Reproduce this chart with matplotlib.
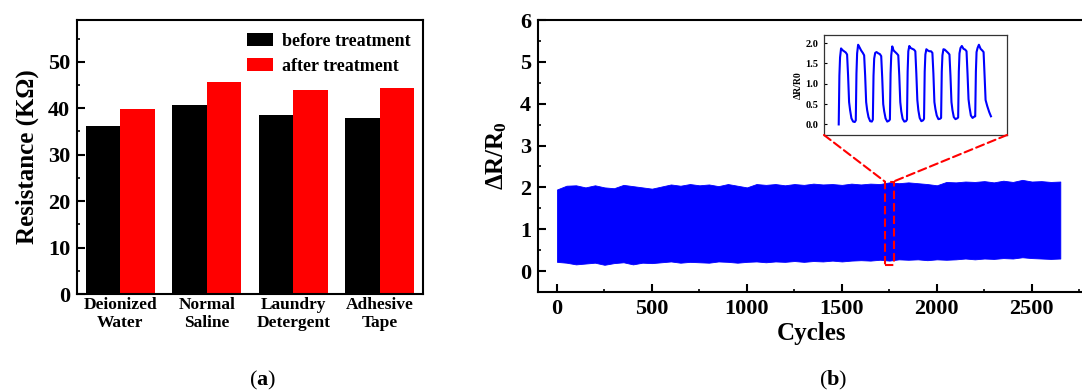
import matplotlib
matplotlib.use('Agg')
import numpy as np
import matplotlib.pyplot as plt
from matplotlib.patches import Rectangle, ConnectionPatch

plt.rcParams['font.family'] = ['Liberation Serif', 'DejaVu Serif']
plt.rcParams['font.weight'] = 'bold'
plt.rcParams['axes.labelweight'] = 'bold'
plt.rcParams['mathtext.fontset'] = 'custom'
plt.rcParams['mathtext.rm'] = 'Liberation Serif'
plt.rcParams['mathtext.it'] = 'Liberation Serif:italic'
plt.rcParams['mathtext.bf'] = 'Liberation Serif:bold'
plt.rcParams['mathtext.default'] = 'regular'

# ---- (a) resistance before / after treatment ----
conditions = ['Deionized\nWater', 'Normal\nSaline', 'Laundry\nDetergent', 'Adhesive\nTape']
before = [36.1, 40.6, 38.5, 37.8]
after = [39.8, 45.6, 43.9, 44.3]

# ---- (b) cycling envelope, read every 50 cycles ----
cycles = list(range(0, 2651, 50))
upper = [1.95, 2.04, 2.05, 2.00, 2.05, 2.00, 1.98, 2.06, 2.03, 2.00,
         1.97, 2.02, 2.07, 2.04, 2.08, 2.05, 2.07, 2.03, 2.08, 2.04,
         2.00, 2.08, 2.06, 2.08, 2.05, 2.08, 2.06, 2.09, 2.07, 2.08,
         2.06, 2.09, 2.07, 2.09, 2.08, 2.12, 2.10, 2.12, 2.10, 2.08,
         2.05, 2.13, 2.12, 2.14, 2.13, 2.15, 2.12, 2.16, 2.13, 2.18,
         2.14, 2.15, 2.13, 2.14]
lower = [0.22, 0.20, 0.16, 0.18, 0.20, 0.15, 0.19, 0.21, 0.16, 0.20,
         0.19, 0.21, 0.23, 0.20, 0.22, 0.21, 0.20, 0.23, 0.22, 0.20,
         0.22, 0.23, 0.21, 0.23, 0.22, 0.24, 0.22, 0.24, 0.23, 0.25,
         0.23, 0.25, 0.26, 0.25, 0.27, 0.25, 0.28, 0.27, 0.28, 0.26,
         0.28, 0.27, 0.28, 0.30, 0.28, 0.30, 0.29, 0.31, 0.30, 0.33,
         0.31, 0.30, 0.29, 0.30]

# ---- inset: nine zoomed-in pulses (time in arbitrary units) ----
inset_t = [0, 2, 4, 7, 11, 16, 21, 25, 28, 31, 34, 38, 43, 48,
           51, 53, 55, 58, 62, 67, 72, 76, 79, 82, 85, 89, 94, 99,
           102, 104, 106, 109, 113, 118, 123, 127, 130, 133, 136, 140, 145, 150,
           153, 155, 157, 160, 164, 169, 174, 178, 181, 184, 187, 191, 196, 201,
           204, 206, 208, 211, 215, 220, 225, 229, 232, 235, 238, 242, 247, 252,
           255, 257, 259, 262, 266, 271, 276, 280, 283, 286, 289, 293, 298, 303,
           306, 308, 310, 313, 317, 322, 327, 331, 334, 337, 340, 344, 349, 354,
           357, 359, 361, 364, 368, 373, 378, 382, 385, 388, 391, 395, 400, 405,
           408, 410, 412, 415, 419, 424, 429, 433, 436, 439, 444, 450, 455]
inset_v = [0.00, 1.20, 1.65, 1.87, 1.83, 1.80, 1.77, 1.72, 1.20, 0.55, 0.35, 0.15, 0.07, 0.06,
           0.10, 1.25, 1.75, 1.96, 1.90, 1.82, 1.76, 1.70, 1.20, 0.55, 0.35, 0.18, 0.08, 0.07,
           0.12, 1.20, 1.62, 1.76, 1.78, 1.75, 1.73, 1.68, 1.15, 0.50, 0.32, 0.15, 0.07, 0.09,
           0.12, 1.25, 1.70, 1.92, 1.82, 1.78, 1.74, 1.70, 1.20, 0.55, 0.32, 0.14, 0.07, 0.08,
           0.12, 1.30, 1.80, 1.93, 1.88, 1.86, 1.84, 1.80, 1.25, 0.60, 0.35, 0.16, 0.08, 0.10,
           0.14, 1.30, 1.72, 1.85, 1.82, 1.80, 1.80, 1.76, 1.25, 0.55, 0.38, 0.22, 0.13, 0.14,
           0.16, 1.30, 1.70, 1.85, 1.84, 1.80, 1.76, 1.72, 1.20, 0.55, 0.35, 0.18, 0.13, 0.15,
           0.17, 1.30, 1.75, 1.88, 1.93, 1.86, 1.84, 1.80, 1.25, 0.62, 0.42, 0.22, 0.16, 0.19,
           0.20, 1.30, 1.78, 1.88, 1.96, 1.86, 1.82, 1.78, 1.20, 0.60, 0.45, 0.30, 0.20]

zoom_box = (1726, 0.14, 46, 2.0)   # x, y, width, height in cycles / dR/R0

W, H = 1082, 392
fig = plt.figure(figsize=(W / 100, H / 100), dpi=100)


def px_axes(l, t, r, b):
    return fig.add_axes([l / W, 1 - b / H, (r - l) / W, (b - t) / H])


def style_ticks(ax):
    for s in ax.spines.values():
        s.set_linewidth(1.5)
    ax.tick_params(direction='in', which='major', length=5.5, width=1.5, labelsize=16, pad=5)
    ax.tick_params(direction='in', which='minor', length=2.5, width=1.2)


# ---------------- (a) ----------------
ax = px_axes(77, 20, 423, 294)
x = np.arange(len(conditions))
ax.bar(x - 0.2, before, 0.4, color='black', label='before treatment')
ax.bar(x + 0.2, after, 0.4, color='red', label='after treatment')
ax.set_xlim(-0.5, 3.5)
ax.set_ylim(0, 59)
ax.set_yticks(range(0, 51, 10))
ax.set_yticks(range(0, 59, 5), minor=True)
style_ticks(ax)
ax.set_xticks(x, conditions)
ax.tick_params(axis='x', length=0, labelsize=12.5, pad=2)
ax.set_ylabel('Resistance (KΩ)', fontsize=18, labelpad=6)
ax.legend(loc='upper right', frameon=False, fontsize=13, handlelength=1.45,
          handleheight=0.7, labelspacing=0.45, borderaxespad=0.3, handletextpad=0.5)
fig.text(263 / W, 1 - 380 / H, r'($\mathbf{a}$)', fontsize=16, fontweight='normal',
         ha='center', va='center')

# ---------------- (b) ----------------
axb = px_axes(538, 20, 1085, 292)
axb.fill_between(cycles, lower, upper, color='#0000FF', linewidth=0.6, edgecolor='#0000FF')
axb.set_xlim(-100, 2780)
axb.set_ylim(-0.5, 6)
axb.set_xticks(range(0, 2501, 500))
axb.set_xticks(range(0, 2780, 250), minor=True)
axb.set_yticks(range(0, 7))
axb.set_yticks(np.arange(-0.5, 6.01, 0.5), minor=True)
style_ticks(axb)
axb.set_xlabel('Cycles', fontsize=18, labelpad=2)
axb.set_ylabel('ΔR/R$_0$', fontsize=18, labelpad=8)

bx, by, bw, bh = zoom_box
axb.add_patch(Rectangle((bx, by), bw, bh, fill=False, edgecolor='red',
                        linewidth=1.5, linestyle=(0, (4, 2)), zorder=5))
fig.text(833 / W, 1 - 380 / H, r'($\mathbf{b}$)', fontsize=16, fontweight='normal',
         ha='center', va='center')

# inset
axi = px_axes(824, 35, 1007, 135)
axi.plot(inset_t, inset_v, color='#0000FF', linewidth=1.5)
axi.set_xlim(-44, 503)
axi.set_ylim(-0.26, 2.2)
axi.set_yticks([0.0, 0.5, 1.0, 1.5, 2.0])
axi.set_xticks([])
for s in axi.spines.values():
    s.set_linewidth(0.9)
    s.set_color('#333333')
axi.tick_params(direction='in', length=2.5, width=0.8, labelsize=7.5, pad=4)
axi.yaxis.set_major_formatter(matplotlib.ticker.FormatStrFormatter('%.1f'))
axi.set_ylabel('ΔR/R0', fontsize=7, labelpad=2)

for xa, xb in [((0, 0), (bx, by + bh)), ((1, 0), (bx + bw, by + bh))]:
    con = ConnectionPatch(xyA=xa, coordsA=axi.transAxes, xyB=xb, coordsB=axb.transData,
                          color='red', linewidth=1.5, linestyle=(0, (4, 2)), zorder=6)
    fig.add_artist(con)

fig.savefig('out.png', dpi=100)
